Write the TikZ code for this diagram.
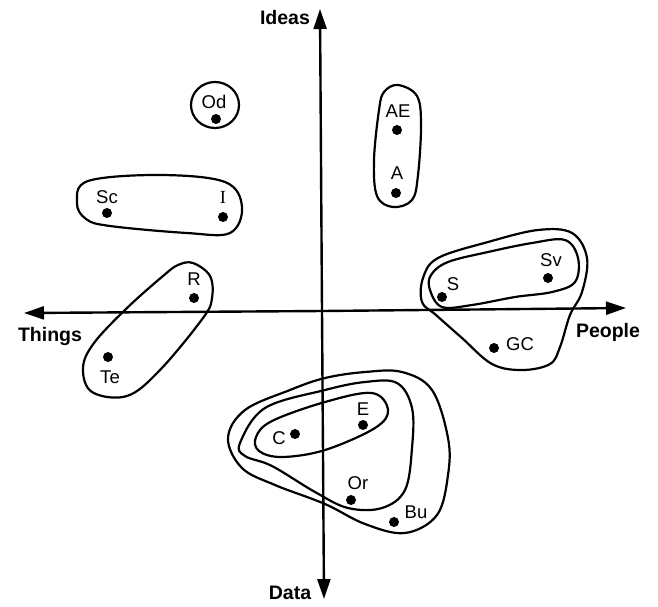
\documentclass[tikz,border=0pt]{standalone}
\usepackage{fontspec}
\setmainfont{Liberation Sans}
\newfontfamily\seriffont{Liberation Serif}
\usetikzlibrary{arrows.meta}
\begin{document}
\begin{tikzpicture}[x=1pt,y=-1pt,
  loop/.style={line width=2.2pt, line join=round},
  axis/.style={line width=2.4pt, -{Triangle[length=20pt,width=13pt]}},
  dot/.style={circle, fill=black, inner sep=0pt, minimum size=10pt},
  lab/.style={inner sep=0pt, font=\fontsize{18.5}{18.5}\selectfont},
  axlab/.style={inner sep=0pt, font=\fontsize{19.5}{19.5}\selectfont\bfseries}]
\useasboundingbox (0,0) rectangle (658,606);
% axes
\coordinate (ctr) at (322,311);
\coordinate (top) at (320,9);
\coordinate (bot) at (324,599);
\coordinate (lft) at (24,313);
\coordinate (rgt) at (626,308);
\draw[axis] (ctr) -- (top);
\draw[axis] (ctr) -- (bot);
\draw[axis] (ctr) -- (lft);
\draw[axis] (ctr) -- (rgt);
\node[axlab] (ideas) at (285,18) {Ideas};
\node[axlab] (data) at (290,593) {Data};
\node[axlab] (things) at (50,336) {Things};
\node[axlab] (people) at (608,332) {People};
% points
\node[dot] (Od) at (216,119) {}; \node[lab] (lOd) at (214,102) {Od};
\node[dot] (AE) at (397,130) {}; \node[lab] (lAE) at (398,111) {AE};
\node[dot] (A) at (396,193) {}; \node[lab] (lA) at (397,173) {A};
\node[dot] (Sc) at (107,213) {}; \node[lab] (lSc) at (107,197) {Sc};
\node[dot] (I) at (223,217) {}; \node[lab,font=\fontsize{18.5}{18.5}\selectfont\seriffont] (lI) at (223,197) {I};
\node[dot] (R) at (194,298) {}; \node[lab] (lR) at (194,279) {R};
\node[dot] (Te) at (108,357) {}; \node[lab] (lTe) at (110,377) {Te};
\node[dot] (S) at (442,297) {}; \node[lab] (lS) at (453,284) {S};
\node[dot] (Sv) at (548,278) {}; \node[lab] (lSv) at (551,260) {Sv};
\node[dot] (GC) at (494,348) {}; \node[lab] (lGC) at (520,344) {GC};
\node[dot] (C) at (295,434) {}; \node[lab] (lC) at (279,438) {C};
\node[dot] (E) at (363,425) {}; \node[lab] (lE) at (363,409) {E};
\node[dot] (Or) at (351,500) {}; \node[lab] (lOr) at (358,483) {Or};
\node[dot] (Bu) at (394,522) {}; \node[lab] (lBu) at (416,512) {Bu};
% loops
\draw[loop] (215,105) ellipse [x radius=24pt, y radius=23pt];
\draw[loop] plot[smooth cycle, tension=0.6] coordinates {(398,85) (417,96) (421,125) (418,175) (412,200) (393,207) (377,196) (374,160) (379,110) (384,92)};
\draw[loop] plot[smooth cycle, tension=0.6] coordinates {(77,203) (88,181) (160,175) (225,182) (242,207) (230,233) (187,233) (110,226) (86,219)};
\draw[loop] plot[smooth cycle, tension=0.6] coordinates {(193,263) (210,276) (212,298) (203,318) (160,370) (127,396) (92,392) (83,368) (94,343) (127,308) (163,276) (178,265)};
\draw[loop] plot[smooth cycle, tension=0.6] coordinates {(431,275) (448,262) (488,252) (532,243) (565,240) (578,258) (575,282) (552,292) (515,297) (472,305) (442,307) (430,290)};
\draw[loop] plot[smooth cycle, tension=0.6] coordinates {(423,278) (438,258) (488,242) (538,230) (572,233) (587,258) (582,292) (570,315) (560,347) (550,364) (522,370) (492,364) (462,338) (436,315) (422,302)};
\draw[loop] plot[smooth cycle, tension=0.6] coordinates {(256,437) (272,421) (325,402) (372,393) (388,410) (375,428) (325,450) (282,457) (259,451)};
\draw[loop] plot[smooth cycle, tension=0.6] coordinates {(240,443) (265,408) (325,390) (365,382) (397,383) (412,408) (412,448) (405,490) (382,508) (348,508) (315,492) (272,466) (245,456)};
\draw[loop] plot[smooth cycle, tension=0.6] coordinates {(228,438) (245,410) (290,390) (325,378) (365,372) (402,372) (432,390) (448,438) (448,475) (437,515) (405,533) (365,524) (325,504) (275,485) (242,468)};
\end{tikzpicture}
\end{document}
